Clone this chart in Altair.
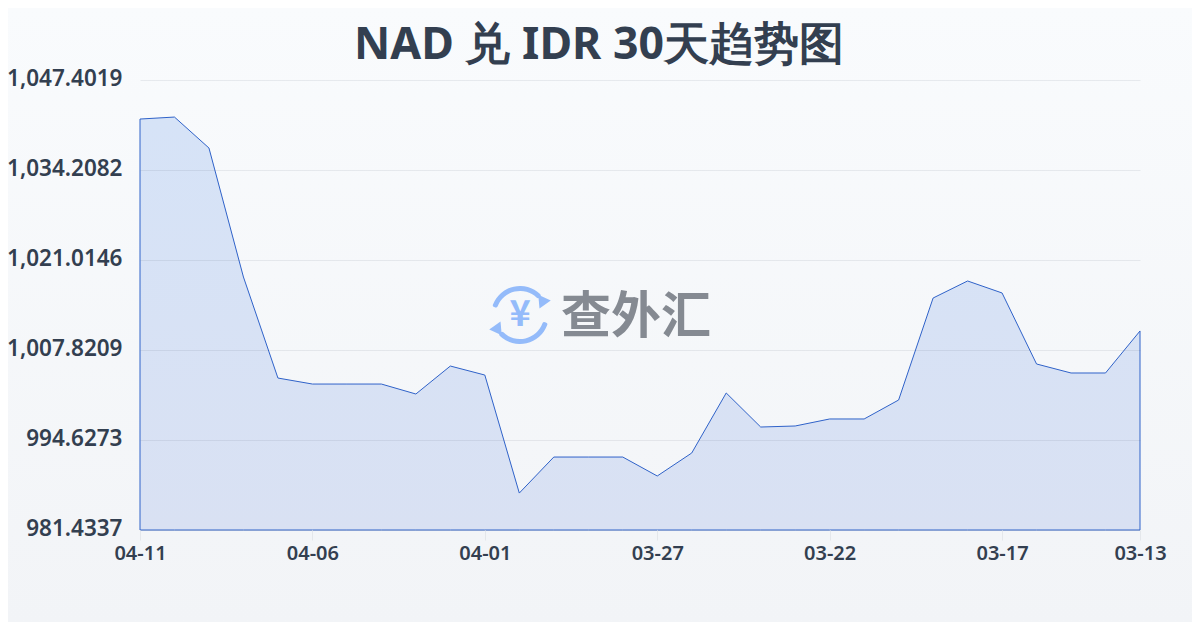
import altair as alt
import pandas as pd

TITLE = "NAD 兑 IDR 30天趋势图"
dates = ["04-11","04-10","04-09","04-08","04-07","04-06","04-05","04-04","04-03","04-02",
         "04-01","03-31","03-30","03-29","03-28","03-27","03-26","03-25","03-24","03-23",
         "03-22","03-21","03-20","03-19","03-18","03-17","03-16","03-15","03-14","03-13"]
rates = [1041.68,1041.97,1037.43,1018.52,1003.71,1002.83,1002.83,1002.83,1001.37,1005.47,
         1004.15,986.85,992.13,992.13,992.13,989.35,992.72,1001.52,996.53,996.68,
         997.71,997.71,1000.49,1015.44,1017.94,1016.18,1005.77,1004.45,1004.45,1010.61]
y_ticks = [981.4337,994.6273,1007.8209,1021.0146,1034.2082,1047.4019]
x_ticks = ["04-11","04-06","04-01","03-27","03-22","03-17","03-13"]
df = pd.DataFrame({"i": list(range(len(dates))), "date": dates, "rate": rates,
                   "base": [y_ticks[0]] * len(dates)})
one = pd.DataFrame({"a": [0]})
x_tick_pos = [dates.index(d) for d in x_ticks]
label_expr = "[" + ",".join(f"'{d}'" for d in dates) + "][datum.value]"

INK = "#333f50"
BLUE = "#94bbfa"
FONT = "Noto Sans"
CJK = "Noto Sans CJK SC"

bg = alt.Chart(one).mark_rect(
    color=alt.Gradient(gradient="linear", x1=0, x2=0, y1=0, y2=1,
                       stops=[alt.GradientStop(color="#f9fbfd", offset=0),
                              alt.GradientStop(color="#f2f4f7", offset=1)])
).encode(x=alt.value(-132), x2=alt.value(1052), y=alt.value(-72), y2=alt.value(542))

area = alt.Chart(df).mark_area(
    stroke="#2f62c9", strokeWidth=1, interpolate="linear",
    color=alt.Gradient(gradient="linear", x1=0, x2=0, y1=0, y2=1,
                       stops=[alt.GradientStop(color="#d6e3f7", offset=0),
                              alt.GradientStop(color="#d9e1f3", offset=1)])
).encode(
    x=alt.X("i:Q", scale=alt.Scale(domain=[0, len(dates) - 1], nice=False, zero=False),
            axis=alt.Axis(values=x_tick_pos, labelExpr=label_expr, title=None, labelAngle=0, labelFont=FONT,
                          labelFontSize=20, labelFontWeight=600, labelColor=INK,
                          labelPadding=3, labelOverlap=False, labelBound=False, labelFlush=False,
                          domain=False, tickColor="#e4e7eb",
                          tickSize=10, grid=False, zindex=1)),
    y=alt.Y("rate:Q", scale=alt.Scale(domain=[y_ticks[0], y_ticks[-1]], nice=False, zero=False),
            axis=alt.Axis(values=y_ticks, format=",.4f", title=None, labelFont=FONT,
                          labelFontSize=22.5, labelFontWeight=600, labelColor=INK,
                          labelPadding=18, labelOffset=-2, labelOverlap=False, labelBound=False,
                          labelFlush=False, domain=False, ticks=False, grid=True,
                          gridColor="#334155", gridOpacity=0.09, gridWidth=1, zindex=1)),
    y2="base:Q",
)

arc_top = alt.Chart(one).mark_arc(theta=5.01, theta2=7.12, radius=29, radius2=24,
                                  cornerRadius=2, color=BLUE).encode(x=alt.value(380), y=alt.value(235))
arc_bot = alt.Chart(one).mark_arc(theta=1.85, theta2=3.98, radius=29, radius2=24,
                                  cornerRadius=2, color=BLUE).encode(x=alt.value(380), y=alt.value(235))
head_r = alt.Chart(one).mark_point(shape="triangle-down", filled=True, size=190, opacity=1, color=BLUE,
                                   angle=25).encode(x=alt.value(402), y=alt.value(223))
head_l = alt.Chart(one).mark_point(shape="triangle-up", filled=True, size=190, opacity=1, color=BLUE,
                                   angle=25).encode(x=alt.value(358), y=alt.value(247))
yen = alt.Chart(one).mark_text(text="¥", font=CJK, fontSize=36, fontWeight="bold", color=BLUE,
                               align="center", baseline="middle").encode(x=alt.value(380), y=alt.value(235))
brand = alt.Chart(one).mark_text(text="查外汇", font=CJK, fontSize=50, fontWeight="bold", color="#858a92",
                                 align="left", baseline="middle").encode(x=alt.value(421), y=alt.value(238))
title = alt.Chart(one).mark_text(text=TITLE, font=FONT, fontSize=44.6, fontWeight=700, color=INK,
                                 align="center", baseline="middle").encode(x=alt.value(459), y=alt.value(-34))

chart = alt.layer(bg, area, arc_top, arc_bot, head_r, head_l, yen, brand, title).properties(
    width=1000, height=450,
    padding={"left": 132, "top": 72, "right": 52, "bottom": 92},
    autosize=alt.AutoSizeParams(type="none"),
).configure_view(stroke=None)

chart.save("out.html", embed_options={"renderer": "svg", "actions": False})
